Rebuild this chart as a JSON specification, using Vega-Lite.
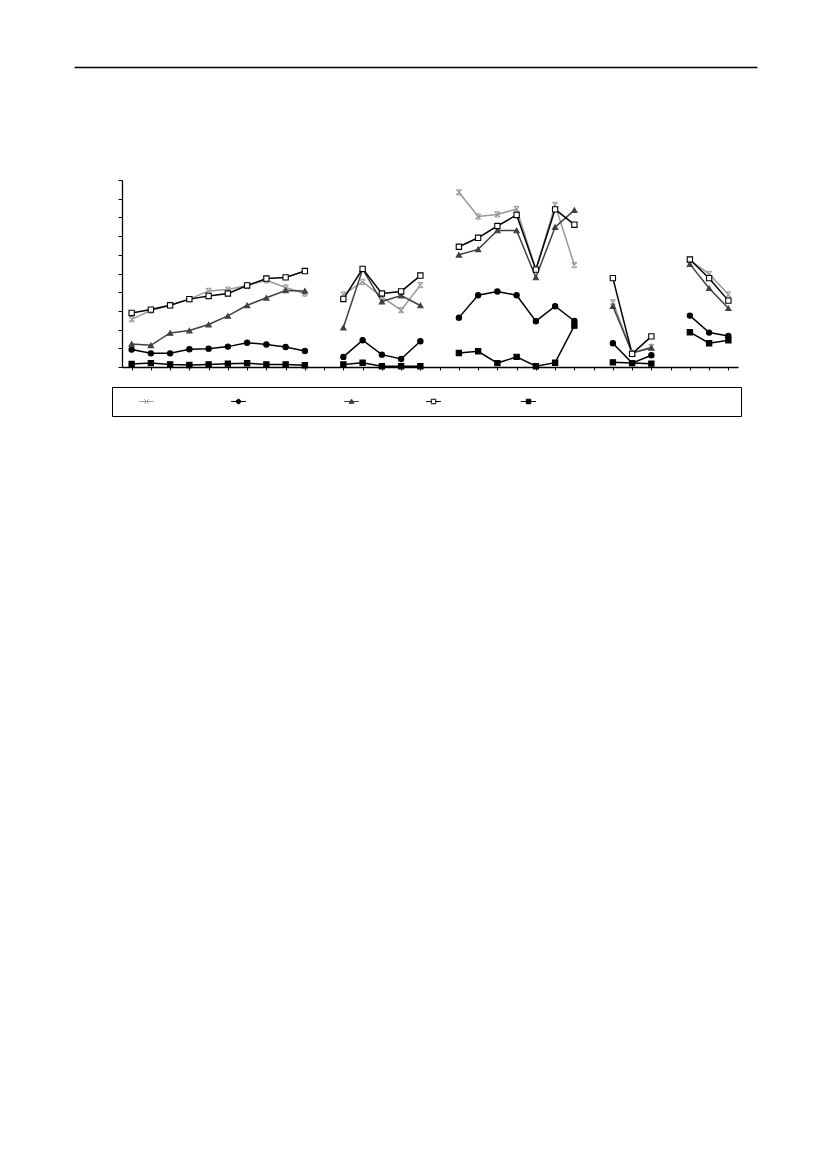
{
  "$schema": "https://vega.github.io/schema/vega-lite/v6.json",
  "width": 616,
  "height": 187,
  "autosize": {"type": "none"},
  "padding": {"left": 122, "top": 180, "right": 89, "bottom": 802},
  "background": "#ffffff",
  "config": {"view": {"stroke": null}},
  "data": {"values": [
    {"s":"A","g":1,"p":1,"v":2.55},{"s":"A","g":1,"p":2,"v":3.02},{"s":"A","g":1,"p":3,"v":3.3},{"s":"A","g":1,"p":4,"v":3.63},{"s":"A","g":1,"p":5,"v":4.07},{"s":"A","g":1,"p":6,"v":4.14},{"s":"A","g":1,"p":7,"v":4.36},{"s":"A","g":1,"p":8,"v":4.64},{"s":"A","g":1,"p":9,"v":4.25},{"s":"A","g":1,"p":10,"v":3.93},
    {"s":"A","g":2,"p":12,"v":3.88},{"s":"A","g":2,"p":13,"v":4.55},{"s":"A","g":2,"p":14,"v":3.75},{"s":"A","g":2,"p":15,"v":3.04},{"s":"A","g":2,"p":16,"v":4.38},
    {"s":"A","g":3,"p":18,"v":9.34},{"s":"A","g":3,"p":19,"v":8.05},{"s":"A","g":3,"p":20,"v":8.16},{"s":"A","g":3,"p":21,"v":8.45},{"s":"A","g":3,"p":22,"v":5.2},{"s":"A","g":3,"p":23,"v":8.66},{"s":"A","g":3,"p":24,"v":5.45},
    {"s":"A","g":4,"p":26,"v":3.46},{"s":"A","g":4,"p":27,"v":0.75},{"s":"A","g":4,"p":28,"v":1.07},
    {"s":"A","g":5,"p":30,"v":5.71},{"s":"A","g":5,"p":31,"v":4.98},{"s":"A","g":5,"p":32,"v":3.88},

    {"s":"B","g":1,"p":1,"v":0.93},{"s":"B","g":1,"p":2,"v":0.73},{"s":"B","g":1,"p":3,"v":0.73},{"s":"B","g":1,"p":4,"v":0.95},{"s":"B","g":1,"p":5,"v":0.98},{"s":"B","g":1,"p":6,"v":1.09},{"s":"B","g":1,"p":7,"v":1.3},{"s":"B","g":1,"p":8,"v":1.2},{"s":"B","g":1,"p":9,"v":1.07},{"s":"B","g":1,"p":10,"v":0.86},
    {"s":"B","g":2,"p":12,"v":0.54},{"s":"B","g":2,"p":13,"v":1.43},{"s":"B","g":2,"p":14,"v":0.66},{"s":"B","g":2,"p":15,"v":0.43},{"s":"B","g":2,"p":16,"v":1.38},
    {"s":"B","g":3,"p":18,"v":2.64},{"s":"B","g":3,"p":19,"v":3.84},{"s":"B","g":3,"p":20,"v":4.04},{"s":"B","g":3,"p":21,"v":3.84},{"s":"B","g":3,"p":22,"v":2.45},{"s":"B","g":3,"p":23,"v":3.25},{"s":"B","g":3,"p":24,"v":2.46},
    {"s":"B","g":4,"p":26,"v":1.27},{"s":"B","g":4,"p":27,"v":0.21},{"s":"B","g":4,"p":28,"v":0.63},
    {"s":"B","g":5,"p":30,"v":2.75},{"s":"B","g":5,"p":31,"v":1.84},{"s":"B","g":5,"p":32,"v":1.66},

    {"s":"C","g":1,"p":1,"v":1.23},{"s":"C","g":1,"p":2,"v":1.16},{"s":"C","g":1,"p":3,"v":1.82},{"s":"C","g":1,"p":4,"v":1.95},{"s":"C","g":1,"p":5,"v":2.27},{"s":"C","g":1,"p":6,"v":2.73},{"s":"C","g":1,"p":7,"v":3.3},{"s":"C","g":1,"p":8,"v":3.7},{"s":"C","g":1,"p":9,"v":4.09},{"s":"C","g":1,"p":10,"v":4.07},
    {"s":"C","g":2,"p":12,"v":2.11},{"s":"C","g":2,"p":13,"v":5.23},{"s":"C","g":2,"p":14,"v":3.5},{"s":"C","g":2,"p":15,"v":3.82},{"s":"C","g":2,"p":16,"v":3.29},
    {"s":"C","g":3,"p":18,"v":6.0},{"s":"C","g":3,"p":19,"v":6.29},{"s":"C","g":3,"p":20,"v":7.3},{"s":"C","g":3,"p":21,"v":7.3},{"s":"C","g":3,"p":22,"v":4.79},{"s":"C","g":3,"p":23,"v":7.48},{"s":"C","g":3,"p":24,"v":8.39},
    {"s":"C","g":4,"p":26,"v":3.25},{"s":"C","g":4,"p":27,"v":0.75},{"s":"C","g":4,"p":28,"v":1.02},
    {"s":"C","g":5,"p":30,"v":5.5},{"s":"C","g":5,"p":31,"v":4.21},{"s":"C","g":5,"p":32,"v":3.14},

    {"s":"D","g":1,"p":1,"v":2.89},{"s":"D","g":1,"p":2,"v":3.07},{"s":"D","g":1,"p":3,"v":3.3},{"s":"D","g":1,"p":4,"v":3.63},{"s":"D","g":1,"p":5,"v":3.8},{"s":"D","g":1,"p":6,"v":3.93},{"s":"D","g":1,"p":7,"v":4.36},{"s":"D","g":1,"p":8,"v":4.73},{"s":"D","g":1,"p":9,"v":4.79},{"s":"D","g":1,"p":10,"v":5.13},
    {"s":"D","g":2,"p":12,"v":3.64},{"s":"D","g":2,"p":13,"v":5.25},{"s":"D","g":2,"p":14,"v":3.93},{"s":"D","g":2,"p":15,"v":4.04},{"s":"D","g":2,"p":16,"v":4.89},
    {"s":"D","g":3,"p":18,"v":6.43},{"s":"D","g":3,"p":19,"v":6.91},{"s":"D","g":3,"p":20,"v":7.54},{"s":"D","g":3,"p":21,"v":8.13},{"s":"D","g":3,"p":22,"v":5.21},{"s":"D","g":3,"p":23,"v":8.43},{"s":"D","g":3,"p":24,"v":7.61},
    {"s":"D","g":4,"p":26,"v":4.75},{"s":"D","g":4,"p":27,"v":0.7},{"s":"D","g":4,"p":28,"v":1.64},
    {"s":"D","g":5,"p":30,"v":5.75},{"s":"D","g":5,"p":31,"v":4.75},{"s":"D","g":5,"p":32,"v":3.55},

    {"s":"E","g":1,"p":1,"v":0.16},{"s":"E","g":1,"p":2,"v":0.21},{"s":"E","g":1,"p":3,"v":0.14},{"s":"E","g":1,"p":4,"v":0.11},{"s":"E","g":1,"p":5,"v":0.14},{"s":"E","g":1,"p":6,"v":0.18},{"s":"E","g":1,"p":7,"v":0.2},{"s":"E","g":1,"p":8,"v":0.14},{"s":"E","g":1,"p":9,"v":0.14},{"s":"E","g":1,"p":10,"v":0.09},
    {"s":"E","g":2,"p":12,"v":0.14},{"s":"E","g":2,"p":13,"v":0.23},{"s":"E","g":2,"p":14,"v":0.04},{"s":"E","g":2,"p":15,"v":0.04},{"s":"E","g":2,"p":16,"v":0.04},
    {"s":"E","g":3,"p":18,"v":0.75},{"s":"E","g":3,"p":19,"v":0.84},{"s":"E","g":3,"p":20,"v":0.21},{"s":"E","g":3,"p":21,"v":0.54},{"s":"E","g":3,"p":22,"v":0.04},{"s":"E","g":3,"p":23,"v":0.23},{"s":"E","g":3,"p":24,"v":2.21},
    {"s":"E","g":4,"p":26,"v":0.25},{"s":"E","g":4,"p":27,"v":0.21},{"s":"E","g":4,"p":28,"v":0.18},
    {"s":"E","g":5,"p":30,"v":1.86},{"s":"E","g":5,"p":31,"v":1.27},{"s":"E","g":5,"p":32,"v":1.43}
  ]},
  "encoding": {
    "x": {"field": "p", "type": "ordinal",
      "scale": {"domain": [1,2,3,4,5,6,7,8,9,10,11,12,13,14,15,16,17,18,19,20,21,22,23,24,25,26,27,28,29,30,31,32], "paddingInner": 0, "paddingOuter": 0},
      "axis": {"title": null, "labels": false, "bandPosition": 0, "ticks": true, "tickSize": 3, "tickColor": "#000", "domainColor": "#000", "domainWidth": 1.3, "tickWidth": 1, "grid": false}},
    "y": {"field": "v", "type": "quantitative",
      "scale": {"domain": [0, 10], "nice": false},
      "axis": {"title": null, "labels": false, "values": [0,1,2,3,4,5,6,7,8,9,10], "tickSize": 4, "tickColor": "#000", "domainColor": "#000", "domainWidth": 1.3, "tickWidth": 1, "grid": false}}
  },
  "layer": [
    {
      "layer": [
        {
          "mark": {"type": "line", "strokeWidth": 1.5},
          "encoding": {
            "stroke": {"field": "s", "type": "nominal", "scale": {"domain": ["A","B","C","D","E"], "range": ["#999999","#000000","#404040","#000000","#000000"]}, "legend": null},
            "detail": {"field": "g", "type": "nominal"}
          }
        },
        {
          "mark": {"type": "point", "filled": true, "opacity": 1, "size": 28, "strokeWidth": 1.1},
          "encoding": {
            "shape": {"field": "s", "type": "nominal", "scale": {"domain": ["A","B","C","D","E"], "range": ["M-1,-1L1,1M-1,1L1,-1M-0.6,-1H0.6M-0.6,1H0.6", "circle", "triangle-up", "square", "square"]}, "legend": null},
            "fill": {"field": "s", "type": "nominal", "scale": {"domain": ["A","B","C","D","E"], "range": ["#999999","#000000","#404040","#ffffff","#000000"]}, "legend": null},
            "stroke": {"field": "s", "type": "nominal", "scale": {"domain": ["A","B","C","D","E"], "range": ["#999999","#000000","#404040","#000000","#000000"]}, "legend": null}
          }
        }
      ]
    },
    {
      "mark": {"type": "point", "filled": true, "opacity": 0, "size": 20, "strokeWidth": 1},
      "encoding": {
        "x": {"field": "p", "type": "ordinal",
          "scale": {"domain": [1,2,3,4,5,6,7,8,9,10,11,12,13,14,15,16,17,18,19,20,21,22,23,24,25,26,27,28,29,30,31,32], "range": [-48, 635], "paddingInner": 0, "paddingOuter": 0},
          "axis": {"orient": "top", "offset": 113, "title": null, "labels": false, "ticks": false, "grid": false, "domainColor": "#000", "domainWidth": 1.3}},
        "shape": {"field": "s", "type": "nominal",
          "scale": {"domain": ["A","B","C","D","E"], "range": [
            "M-10.8,0M-1,-1L1,1M-1,1L1,-1M-3.3,0H3.3M27.8,0",
            "M-10.8,0M-3.3,0H3.3M1,0A1,1,0,1,1,-1,0A1,1,0,1,1,1,0ZM37.3,0",
            "M-10.8,0M-3.3,0H3.3M0,-1.1L1.1,0.8H-1.1ZM23.5,0",
            "M-10.8,0M-3.3,0H-1M1,0H3.3M-1,-1H1V1H-1ZM29.4,0",
            "M-10.8,0M-3.3,0H3.3M-1,-1H1V1H-1ZM89.7,0"]},
          "legend": {"orient": "none", "legendX": -10, "legendY": 207, "direction": "horizontal", "columns": 5, "title": null, "strokeColor": "#000000", "padding": 9.5, "symbolSize": 20, "symbolOffset": 20, "symbolStrokeWidth": 1, "symbolOpacity": 1, "labelOffset": 8, "columnPadding": 0, "labelExpr": "''"}},
        "fill": {"field": "s", "type": "nominal", "scale": {"domain": ["A","B","C","D","E"], "range": ["#999999","#000000","#404040","#ffffff","#000000"]},
          "legend": {"orient": "none", "legendX": -10, "legendY": 207, "direction": "horizontal", "columns": 5, "title": null, "strokeColor": "#000000", "padding": 9.5, "symbolSize": 20, "symbolOffset": 20, "symbolStrokeWidth": 1, "symbolOpacity": 1, "labelOffset": 8, "columnPadding": 0, "labelExpr": "''"}},
        "stroke": {"field": "s", "type": "nominal", "scale": {"domain": ["A","B","C","D","E"], "range": ["#999999","#000000","#404040","#000000","#000000"]},
          "legend": {"orient": "none", "legendX": -10, "legendY": 207, "direction": "horizontal", "columns": 5, "title": null, "strokeColor": "#000000", "padding": 9.5, "symbolSize": 20, "symbolOffset": 20, "symbolStrokeWidth": 1, "symbolOpacity": 1, "labelOffset": 8, "columnPadding": 0, "labelExpr": "''"}}
      }
    }
  ],
  "resolve": {"scale": {"x": "independent", "shape": "independent", "fill": "independent", "stroke": "independent"}, "axis": {"x": "independent"}}
}
